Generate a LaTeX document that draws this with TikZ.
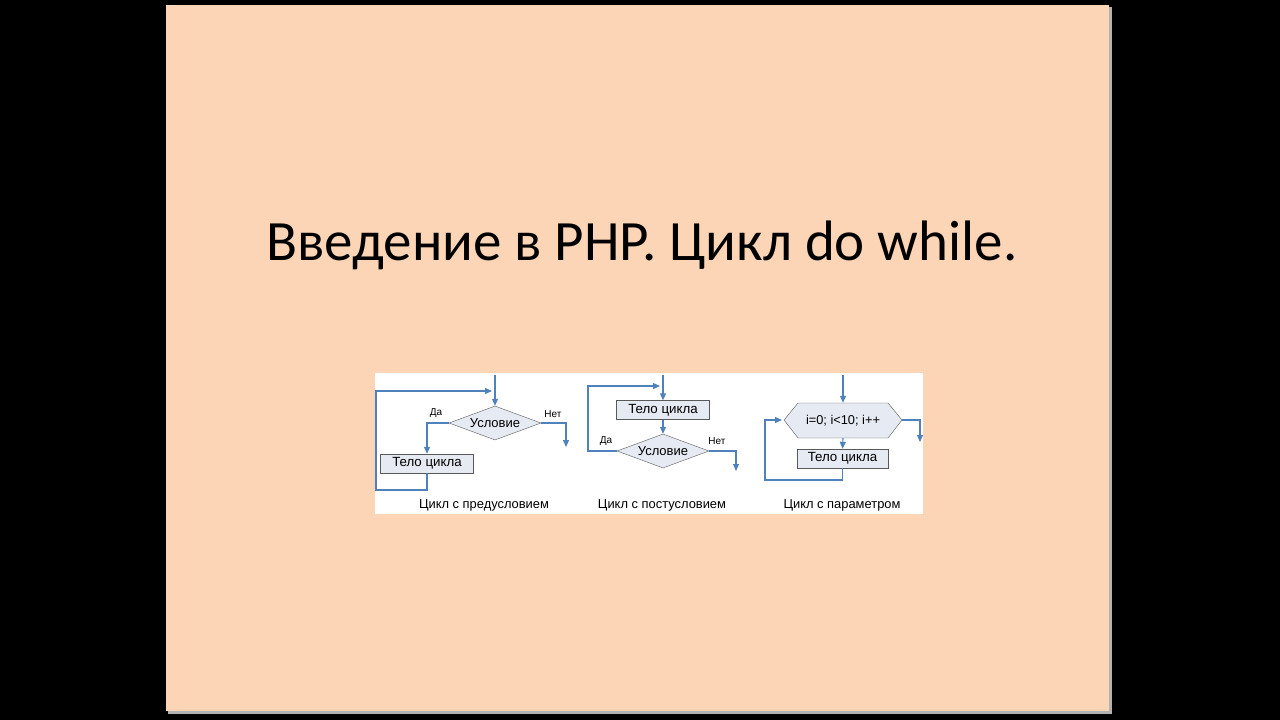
\documentclass[tikz,border=0pt]{standalone}
\usepackage{fontspec}
\setmainfont{Carlito}
\newfontfamily\arialf{Liberation Sans}
\usetikzlibrary{shapes.geometric,arrows.meta}
\definecolor{peach}{HTML}{FBD5B5}
\definecolor{ln}{HTML}{4F81BD}
\definecolor{bx}{HTML}{E6EAF2}
\begin{document}
\begin{tikzpicture}[x=1pt,y=-1pt,
 box/.style={draw=gray!70!black,fill=bx,minimum width=93pt,minimum height=19pt,inner sep=0pt,font=\arialf\fontsize{13.3}{14}\selectfont},
 dia/.style={diamond,aspect=2.7,draw=gray!70!black,fill=bx,minimum width=92pt,minimum height=34pt,inner sep=0pt,font=\arialf\fontsize{13}{14}\selectfont},
 lb/.style={font=\arialf\fontsize{10}{11}\selectfont},
 capt/.style={font=\arialf\fontsize{12.9}{14}\selectfont},
 fl/.style={draw=ln,line width=1.1pt},
 ar/.style={fl,-{Triangle[length=7pt,width=6pt]}}]
\fill[black] (0,0) rectangle (1280,720);
\fill[gray!60] (168,7) rectangle (1112,714);
\fill[peach] (166,5) rectangle (1109,711);
\node[font=\fontsize{57}{68}\selectfont] (title) at (642,245) {Введение в PHP. Цикл do while.};
\fill[white] (375,373) rectangle (923,514);
% chart 1
\coordinate (t1) at (495,375);
\node[dia] (d1) at (495,423) {Условие};
\node[box] (b1) at (427,463.5) {Тело цикла};
\coordinate (n1) at (566,447);
\coordinate (l1) at (492,391);
\draw[ar] (t1) -- (d1.north);
\draw[ar] (d1.west) -| (b1.north);
\draw[ar] (d1.east) -| (n1);
\draw[ar] (b1.south) |- (376,490) -- (376,391) -- (l1);
\node[lb] (da1) at (436,413) {Да};
\node[lb] (net1) at (553,414) {Нет};
\node[capt] (c1) at (484,505) {Цикл с предусловием};
% chart 2
\coordinate (t2) at (663,375);
\node[box] (b2) at (663,410) {Тело цикла};
\node[dia] (d2) at (663,451) {Условие};
\coordinate (n2) at (736,471);
\coordinate (l2) at (660,386);
\draw[ar] (t2) -- (b2.north);
\draw[ar] (b2.south) -- (d2.north);
\draw[ar] (d2.west) -- (588,451) -- (588,386) -- (l2);
\draw[ar] (d2.east) -| (n2);
\node[lb] (da2) at (606,441) {Да};
\node[lb] (net2) at (717,441) {Нет};
\node[capt] (c2) at (662,505) {Цикл с постусловием};
% chart 3
\coordinate (t3) at (843,375);
\draw[draw=gray!70!black,fill=bx] (784,420) -- (798,403) -- (888,403) -- (902,420) -- (888,438) -- (798,438) -- cycle;
\node[font=\arialf\fontsize{12.8}{14}\selectfont,minimum width=104pt,minimum height=35pt,inner sep=0pt] (h3) at (843,420.5) {i=0; i<10; i++};
\node[box,minimum width=91pt] (b3) at (842.5,458.5) {Тело цикла};
\coordinate (n3) at (920,442);
\draw[ar] (t3) -- (h3.north);
\draw[ar] (843,438) -- (b3.north);
\draw[ar] (902,420) -| (n3);
\draw[ar] (b3.south) |- (765,480) -- (765,420) -- (782,420);
\node[capt] (c3) at (842,505) {Цикл с параметром};
\end{tikzpicture}
\end{document}
